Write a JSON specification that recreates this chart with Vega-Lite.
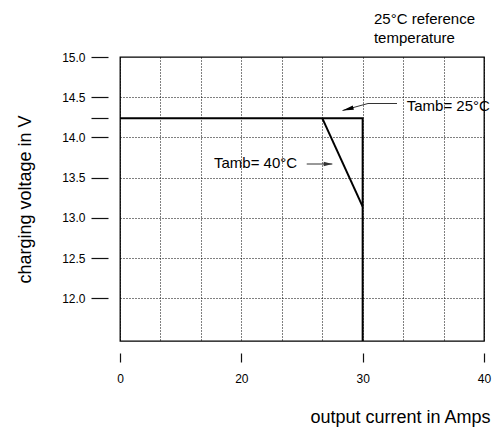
{
  "$schema": "https://vega.github.io/schema/vega-lite/v6.json",
  "width": 364,
  "height": 284,
  "autosize": {"type": "none"},
  "padding": {"left": 120, "top": 57, "right": 16, "bottom": 87},
  "background": "#ffffff",
  "config": {
    "font": "Liberation Sans",
    "view": {"stroke": "#000000", "strokeWidth": 1.3},
    "axis": {
      "domain": false,
      "labelFont": "Liberation Sans",
      "titleFont": "Liberation Sans",
      "labelColor": "#000000",
      "titleColor": "#000000",
      "tickColor": "#111111",
      "tickWidth": 1.2,
      "titleFontWeight": "normal",
      "labelFontSize": 12,
      "titleFontSize": 18,
      "gridColor": "#000000",
      "gridDash": [1, 2],
      "gridWidth": 1
    }
  },
  "datasets": {
    "curves": [
      {"series": "Tamb 25°C", "seq": 1, "current": 0, "voltage": 14.24},
      {"series": "Tamb 25°C", "seq": 2, "current": 30, "voltage": 14.24},
      {"series": "Tamb 25°C", "seq": 3, "current": 30, "voltage": 11.47},
      {"series": "Tamb 40°C", "seq": 1, "current": 26.667, "voltage": 14.24},
      {"series": "Tamb 40°C", "seq": 2, "current": 30, "voltage": 13.14}
    ],
    "arrows": [
      {"arrow": "25", "seq": 1, "current": 32.83, "voltage": 14.422},
      {"arrow": "25", "seq": 2, "current": 30.44, "voltage": 14.422},
      {"arrow": "25", "seq": 3, "current": 28.34, "voltage": 14.335},
      {"arrow": "40", "seq": 1, "current": 25.39, "voltage": 13.67},
      {"arrow": "40", "seq": 2, "current": 27.5, "voltage": 13.67}
    ],
    "heads": [
      {"arrow": "25", "current": 28.34, "voltage": 14.335},
      {"arrow": "40", "current": 27.5, "voltage": 13.67}
    ],
    "labels": [
      {"label": "Tamb= 25°C", "current": 33.63, "voltage": 14.323},
      {"label": "Tamb= 40°C", "current": 15.49, "voltage": 13.62},
      {"label": "25°C reference", "current": 30.93, "voltage": 15.404},
      {"label": "temperature", "current": 30.93, "voltage": 15.18}
    ]
  },
  "encoding": {
    "x": {
      "field": "current",
      "type": "quantitative",
      "scale": {"domain": [0, 20, 30, 40], "range": [0, 121.333, 242.667, 364], "zero": false, "nice": false},
      "axis": {
        "values": [0, 6.6667, 13.3333, 20, 23.3333, 26.6667, 30, 33.3333, 36.6667, 40],
        "labelExpr": "datum.value % 10 == 0 ? format(datum.value, '.0f') : ''",
        "tickOpacity": {"condition": {"test": "datum.value % 10 == 0", "value": 1}, "value": 0},
        "grid": true,
        "offset": 12,
        "tickSize": 9,
        "labelPadding": 11,
        "labelFlush": false,
        "labelOverlap": false,
        "title": "output current in Amps",
        "titleX": 370,
        "titleY": 69,
        "titleAlign": "right",
        "titleBaseline": "alphabetic"
      }
    },
    "y": {
      "field": "voltage",
      "type": "quantitative",
      "scale": {"domain": [11.47, 15], "zero": false, "nice": false},
      "axis": {
        "values": [12, 12.5, 13, 13.5, 14, 14.24, 14.5, 15],
        "labelExpr": "datum.value == 14.24 ? '' : format(datum.value, '.1f')",
        "gridOpacity": {"condition": {"test": "datum.value == 14.24 || datum.value == 15", "value": 0}, "value": 1},
        "grid": true,
        "offset": 12,
        "tickSize": 17,
        "labelPadding": 6,
        "labelOverlap": false,
        "title": "charging voltage in V",
        "titleX": -78,
        "titleY": 142,
        "titleAlign": "center",
        "titleBaseline": "alphabetic"
      }
    }
  },
  "layer": [
    {
      "data": {"name": "curves"},
      "mark": {"type": "line", "color": "#000000", "strokeWidth": 2},
      "encoding": {
        "detail": {"field": "series", "type": "nominal"},
        "order": {"field": "seq", "type": "quantitative"}
      }
    },
    {
      "data": {"name": "arrows"},
      "mark": {"type": "line", "color": "#333333", "strokeWidth": 1},
      "encoding": {
        "detail": {"field": "arrow", "type": "nominal"},
        "order": {"field": "seq", "type": "quantitative"}
      }
    },
    {
      "data": {"name": "heads"},
      "transform": [{"filter": "datum.arrow == '25'"}],
      "mark": {"type": "point", "shape": "M0,0L1,-0.2L1,0.2Z", "filled": true, "color": "#000000", "opacity": 1, "size": 500, "angle": 345, "strokeWidth": 0}
    },
    {
      "data": {"name": "heads"},
      "transform": [{"filter": "datum.arrow == '40'"}],
      "mark": {"type": "point", "shape": "M0,0L1,-0.25L1,0.25Z", "filled": true, "color": "#333333", "opacity": 1, "size": 300, "angle": 180, "strokeWidth": 0}
    },
    {
      "data": {"name": "labels"},
      "mark": {"type": "text", "align": "left", "baseline": "alphabetic", "fontSize": 15, "color": "#000000", "font": "Liberation Sans"},
      "encoding": {"text": {"field": "label", "type": "nominal"}}
    }
  ]
}
